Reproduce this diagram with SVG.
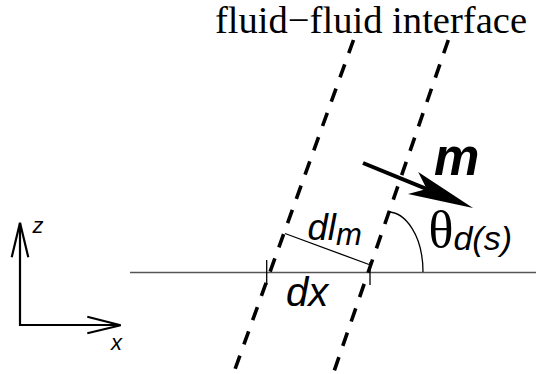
<svg xmlns="http://www.w3.org/2000/svg" width="536" height="374" viewBox="0 0 536 374">
<style>
.serif{font-family:"Liberation Serif","Times New Roman",serif;fill:#000}
.sans{font-family:"Liberation Sans",Arial,sans-serif;font-style:italic;fill:#000}
.dash{stroke:#000;stroke-width:3.6;stroke-dasharray:14 11.8;fill:none}
.thin{stroke:#000;stroke-width:1.3;fill:none}
.axis{stroke:#000;stroke-width:2.2;fill:none;stroke-linejoin:miter}
</style>
<rect width="536" height="374" fill="#fff"/>
<g id="title">
<text class="serif" x="215" y="33" font-size="38.6">fluid−fluid interface</text>
</g>
<g id="surface">
<line x1="130" y1="272.5" x2="536" y2="272.5" stroke="#555" stroke-width="1.6"/>
<line class="thin" x1="266.7" y1="260" x2="266.7" y2="285"/>
<line class="thin" x1="370" y1="262" x2="370" y2="285"/>
</g>
<g id="interface">
<line class="dash" x1="353.5" y1="40" x2="233.3" y2="374"/>
<line class="dash" x1="448.3" y1="40" x2="333.1" y2="374"/>
</g>
<g id="dlm">
<line class="thin" x1="285" y1="233.5" x2="369" y2="264.5"/>
<text class="sans" x="307.5" y="240" font-size="36.5">dl<tspan font-size="31" dy="5">m</tspan></text>
</g>
<g id="dx">
<text class="sans" x="286" y="305.5" font-size="40">dx</text>
</g>
<g id="m-vector">
<line x1="363" y1="163" x2="430" y2="190.4" stroke="#000" stroke-width="4"/>
<polygon points="473,208 418.2,172 426.7,189 408,194" fill="#000"/>
<text class="sans" x="434" y="175" font-size="51" font-weight="bold">m</text>
</g>
<g id="angle">
<path class="thin" d="M388,212 C405,212 423,235 423,272"/>
<text class="serif" x="428.5" y="246.5" font-size="52">θ<tspan class="sans" font-size="34" dy="3">d(s)</tspan></text>
</g>
<g id="axes">
<polyline class="axis" points="20,223 20,325 120,325"/>
<polyline class="axis" points="11.7,257.3 20,222.7 28.3,257.3"/>
<polyline class="axis" points="87.3,316.7 120.7,325.3 87.3,333.3"/>
<text class="sans" x="32.5" y="233.3" font-size="22">z</text>
<text class="sans" x="111" y="350" font-size="22">x</text>
</g>
</svg>
